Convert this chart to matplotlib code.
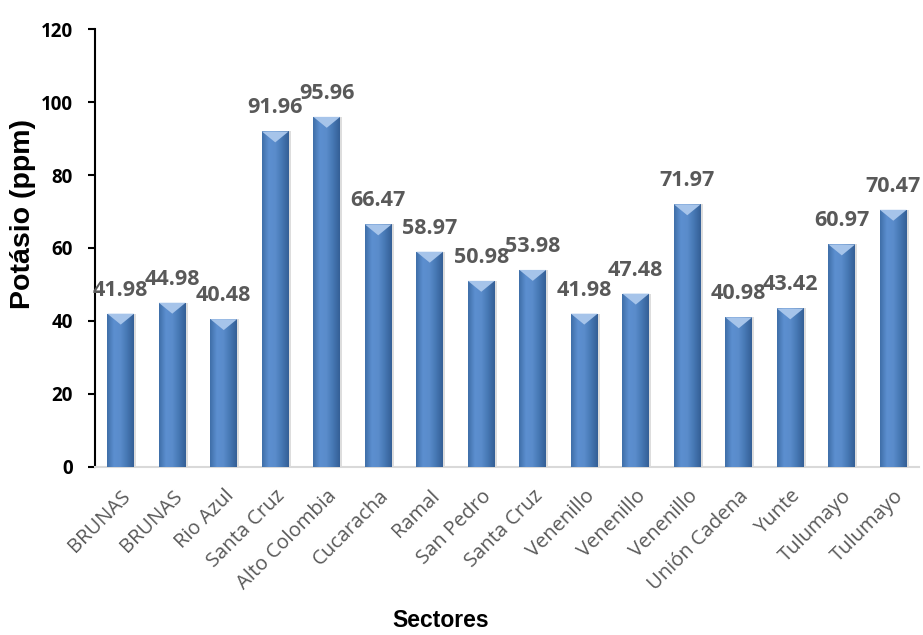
import numpy as np
import matplotlib.pyplot as plt
import matplotlib.transforms as mtransforms
from matplotlib.patches import Polygon
from matplotlib.colors import LinearSegmentedColormap

# -----------------------------
# Data
# -----------------------------
sectores = ["BRUNAS", "BRUNAS", "Rio Azul", "Santa Cruz", "Alto Colombia",
            "Cucaracha", "Ramal", "San Pedro", "Santa Cruz", "Venenillo",
            "Venenillo", "Venenillo", "Unión Cadena", "Yunte", "Tulumayo", "Tulumayo"]
potasio = [41.98, 44.98, 40.48, 91.96, 95.96, 66.47, 58.97, 50.98,
           53.98, 41.98, 47.48, 71.97, 40.98, 43.42, 60.97, 70.47]
yticks = [0, 20, 40, 60, 80, 100, 120]

# -----------------------------
# Figure
# -----------------------------
fig = plt.figure(figsize=(9.23, 6.35), dpi=100)
ax = fig.add_axes([0.1029, 0.265, 0.8928, 0.689])

x = np.arange(len(potasio))
width = 0.52

# soft shadow behind bars
ax.bar(x + 0.045, potasio, width=width, color="#8f8f8f", alpha=0.3, zorder=1)

bars = ax.bar(x, potasio, width=width, color="#4A7EBB", zorder=2)

# horizontal gradient inside each bar + bevel on top
grad = np.linspace(0, 1, 64)
grad = np.vstack([grad, grad])
cmap = LinearSegmentedColormap.from_list(
    "barg", ["#3F6EA8", "#5C8FD0", "#5A8CCB", "#4677B3", "#345F96"])
for b in bars:
    bx, bw, bh = b.get_x(), b.get_width(), b.get_height()
    im = ax.imshow(grad, cmap=cmap, aspect="auto", extent=[bx, bx + bw, 0, bh],
                   zorder=3, interpolation="bicubic")
    im.set_clip_path(b)
    tri = Polygon([[bx, bh], [bx + bw, bh], [bx + bw / 2, bh - 3.0]],
                  closed=True, facecolor="#A6C4EA", edgecolor="none", zorder=4)
    ax.add_patch(tri)

ax.set_xlim(-0.5, len(potasio) - 0.5)
ax.set_ylim(0, 120)
ax.set_yticks(yticks)

# data labels
for xi, v in zip(x, potasio):
    ax.annotate(f"{v:.2f}", (xi, v), xytext=(0, 13), textcoords="offset points",
                ha="center", va="baseline", fontsize=15.5, fontweight="bold",
                color="#595959", family="Open Sans", zorder=5)

ax.set_xticks(x)
ax.set_xticklabels(sectores, rotation=45, ha="right", rotation_mode="anchor",
                   fontsize=14.5, color="#595959", family="Open Sans")
shift = mtransforms.ScaledTranslation(5 / 100, 0, fig.dpi_scale_trans)
for lab in ax.get_xticklabels():
    lab.set_transform(lab.get_transform() + shift)
ax.tick_params(axis="x", length=0, pad=14)
ax.tick_params(axis="y", direction="out", length=5, width=1.5, labelsize=13.5, pad=11)
for lab in ax.get_yticklabels():
    lab.set_fontweight("bold")
    lab.set_family("Open Sans")

ax.spines["top"].set_visible(False)
ax.spines["right"].set_visible(False)
ax.spines["left"].set_linewidth(1.5)
ax.spines["bottom"].set_color("#D9D9D9")
ax.spines["bottom"].set_linewidth(1.5)

fig.text(23 / 923, 1 - 214 / 635, "Potásio (ppm)", rotation=90, ha="center",
         va="center", fontsize=20.5, fontweight="bold", family="Liberation Sans")
fig.text(441 / 923, 8 / 635, "Sectores", ha="center", va="baseline", fontsize=16.5,
         fontweight="bold", family="Liberation Sans")

fig.savefig("out.png", dpi=100)
